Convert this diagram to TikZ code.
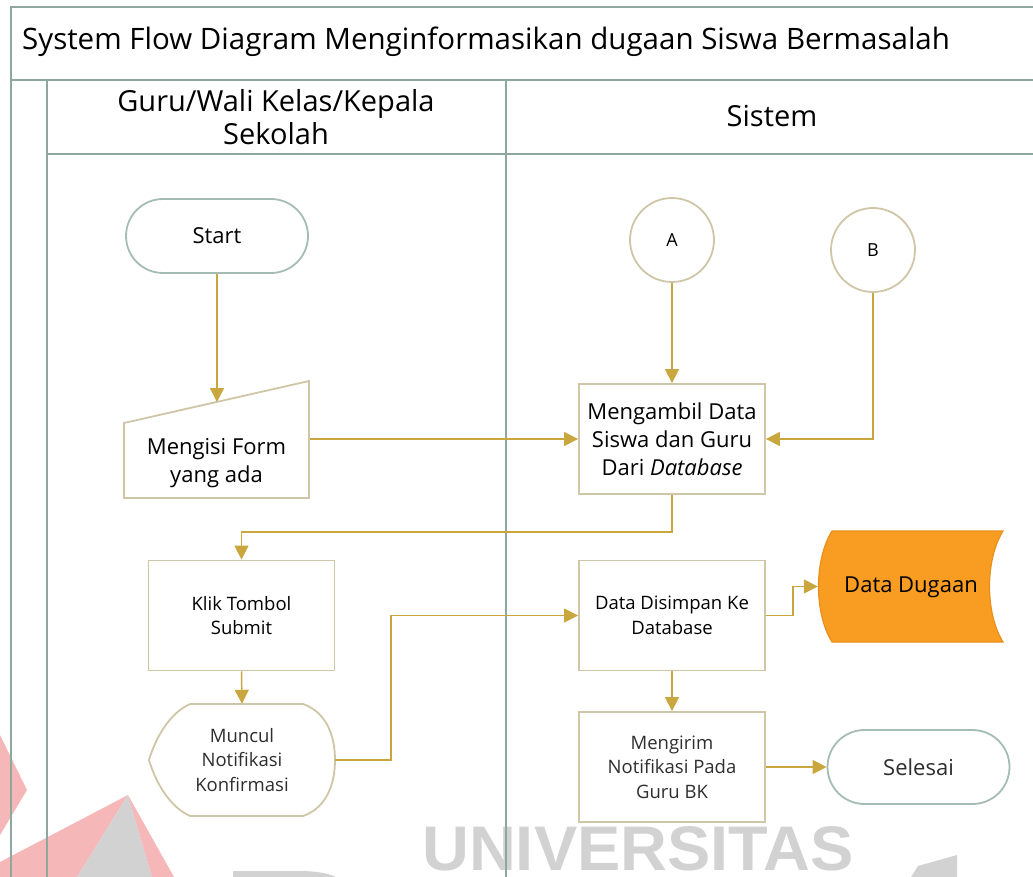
\documentclass[tikz,border=0pt]{standalone}
\usepackage{fontspec}
\setmainfont{Open Sans}
\newfontfamily\markfont{Liberation Sans}
\usetikzlibrary{shapes.misc,shapes.geometric,arrows.meta,calc}

\definecolor{lanec}{HTML}{8FA89E}
\definecolor{boxc}{HTML}{CFC6A8}
\definecolor{termc}{HTML}{A5BCB3}
\definecolor{arrc}{HTML}{C9A73E}
\definecolor{orangefill}{HTML}{F89C22}
\definecolor{orangeline}{HTML}{E8901C}
\definecolor{txtgray}{HTML}{2E2E2E}
\definecolor{wmgray}{HTML}{D2D2D2}
\definecolor{wmred}{HTML}{F6B7B8}

\begin{document}
\begin{tikzpicture}[x=1pt,y=-1pt,
  lane/.style={draw=lanec,line width=2.2pt},
  procbox/.style={draw=boxc,line width=1.8pt,fill=white,minimum width=186,
    minimum height=110,align=center,inner sep=2pt},
  termbox/.style={rounded rectangle,draw=termc,line width=1.8pt,fill=white,
    minimum width=186,minimum height=74,inner sep=2pt},
  connector/.style={circle,draw=boxc,line width=1.8pt,fill=white,minimum size=84,
    inner sep=0pt,font=\fontsize{18}{22}\selectfont},
  flow/.style={draw=arrc,line width=1.5pt,-{Triangle[width=14pt,length=14pt]}},
  big/.style={font=\fontsize{22}{28}\selectfont},
  small/.style={font=\fontsize{18.5}{24.5}\selectfont,text=txtgray},
]
\useasboundingbox (0,0) rectangle (1033,877);
\clip (0,0) rectangle (1033,877);

% faint watermark behind the chart
\fill[wmred] (0,735) -- (27,790) -- (0,835) -- cycle;
\fill[wmred] (0,862) -- (128,795) -- (77,877) -- (0,877) -- cycle;
\fill[wmgray] (128,795) -- (77,877) -- (152,877) -- cycle;
\fill[wmred] (128,795) -- (152,877) -- (174,877) -- cycle;
\fill[wmgray] (233,877) -- (233,871) -- (300,871) .. controls (318,871) and (330,874) .. (336,877) -- cycle;
\fill[wmgray] (911,877) -- (918,866) -- (957,855) -- (957,877) -- cycle;
\node[text=wmgray,font=\markfont\bfseries\fontsize{63}{63}\selectfont,anchor=base,
  inner sep=0pt,xscale=1.03] (wm) at (638,870) {UNIVERSITAS};

% pool and lanes
\draw[lane] (1040,7) -- (11,7) -- (11,880);
\draw[lane] (11,80) -- (1040,80);
\draw[lane] (47,80) -- (47,880);
\draw[lane] (506,80) -- (506,880);
\draw[lane] (47,154) -- (1040,154);

\node[anchor=west,inner sep=0pt,font=\fontsize{29.5}{36}\selectfont] (title) at (22,42)
  {System Flow Diagram Menginformasikan dugaan Siswa Bermasalah};
\node[align=center,font=\fontsize{29}{33}\selectfont] (laneA) at (276,117)
  {Guru/Wali Kelas/Kepala\\Sekolah};
\node[font=\fontsize{29}{33}\selectfont] (laneB) at (772,116) {Sistem};

% left lane
\node[termbox,big] (start) at (217,236) {Start};

\node[minimum width=186,minimum height=118,inner sep=0pt] (form) at (216.5,439.5) {};
\draw[draw=boxc,line width=1.8pt,fill=white]
  (124,423) -- (309,381) -- (309,498) -- (124,498) -- cycle;
\node[big,align=center] (formtxt) at (216.5,463) {Mengisi Form\\yang ada};
\coordinate (formtop) at (217,402);

\node[procbox,small,text=black] (klik) at (241.5,615.5) {Klik Tombol\\Submit};

\node[minimum width=186,minimum height=112,inner sep=0pt] (muncul) at (242,760) {};
\draw[draw=boxc,line width=1.8pt,fill=white]
  (190,704) -- (303,704)
  .. controls (326,712) and (335,735) .. (335,760)
  .. controls (335,785) and (326,808) .. (303,816)
  -- (190,816)
  .. controls (168,806) and (155,780) .. (149,760)
  .. controls (155,740) and (168,714) .. (190,704) -- cycle;
\node[small,align=center] (muncultxt) at (242,760) {Muncul\\Notifikasi\\Konfirmasi};

% right lane
\node[connector] (A) at (672,240) {A};
\node[connector] (B) at (873,250) {B};

\node[procbox,big] (ambil) at (672,439) {Mengambil Data\\Siswa dan Guru\\Dari \textit{Database}};
\node[procbox,small,text=black] (simpan) at (672,615.5) {Data Disimpan Ke\\Database};
\node[procbox,small] (kirim) at (672,767) {Mengirim\\Notifikasi Pada\\Guru BK};

\node[minimum width=185,minimum height=111,inner sep=0pt] (dugaan) at (910.5,586.5) {};
\draw[draw=orangeline,line width=1.2pt,fill=orangefill]
  (832,531) -- (1003,531)
  .. controls (985,560) and (985,613) .. (1003,642)
  -- (832,642)
  .. controls (814,613) and (814,560) .. (832,531) -- cycle;
\node[big] (dugaantxt) at (911,587) {Data Dugaan};

\node[termbox,big,text=txtgray] (selesai) at (918.5,767) {Selesai};

% flow
\draw[flow] (start.south) -- (formtop);
\draw[flow] (form.east |- ambil.west) -- (ambil.west);
\draw[flow] (A.south) -- (ambil.north);
\draw[flow] (B.south) |- (ambil.east);
\draw[flow] (ambil.south) -- ++(0,37) -| (klik.north);
\draw[flow] (klik.south) -- (muncul.north);
\draw[flow] (muncul.east) -- ++(56,0) |- (simpan.west);
\draw[flow] (simpan.east) -- ++(27,0) |- (dugaan.west);
\draw[flow] (simpan.south) -- (kirim.north);
\draw[flow] (kirim.east) -- (selesai.west);
\end{tikzpicture}
\end{document}
